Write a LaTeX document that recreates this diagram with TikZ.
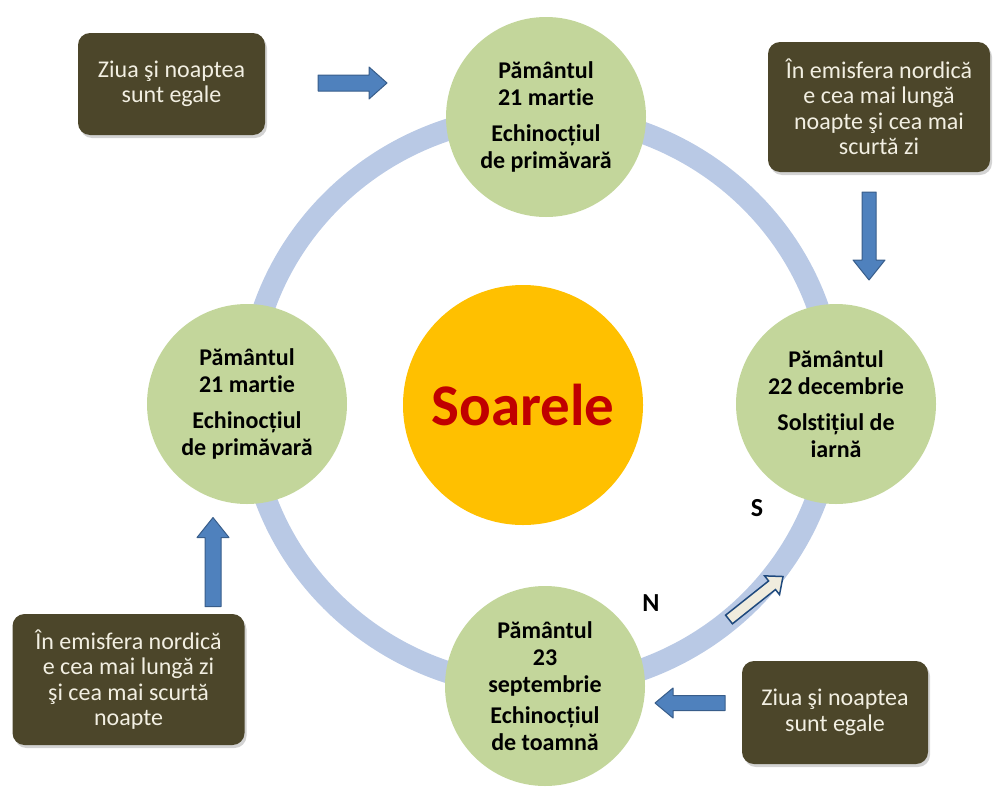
\documentclass[tikz,border=0pt]{standalone}
\usepackage{fontspec}
\setmainfont{Carlito}[Ligatures={NoCommon}]
\usetikzlibrary{shadows}
\definecolor{SunClr}{RGB}{255,192,0}
\definecolor{SunTxtClr}{RGB}{192,0,0}
\definecolor{EarthClr}{RGB}{195,214,155}
\definecolor{OrbitClr}{RGB}{185,201,229}
\definecolor{NoteClr}{RGB}{76,70,42}
\definecolor{NoteTxtClr}{RGB}{242,239,226}
\definecolor{ArrowClr}{RGB}{79,129,189}
\definecolor{ArrowLineClr}{RGB}{56,93,138}
\definecolor{PaleClr}{RGB}{240,236,222}
\definecolor{PaleLineClr}{RGB}{31,73,125}

% block arrow: style, centre x, centre y, angle, length, shaft, head width, head length
\newcommand{\blockarrow}[8]{%
  \draw[#1,shift={(#2,#3)},rotate=#4]
    (-#5/2,-#6/2) -- ({#5/2-#8},-#6/2) -- ({#5/2-#8},-#7/2) -- (#5/2,0)
    -- ({#5/2-#8},#7/2) -- ({#5/2-#8},#6/2) -- (-#5/2,#6/2) -- cycle;}

\begin{document}
\begin{tikzpicture}[x=1pt,y=-1pt,
  orbit/.style={draw=OrbitClr,line width=22pt},
  sun/.style={circle,fill=SunClr,minimum size=240pt,inner sep=0pt,
    text=SunTxtClr,font=\fontsize{59}{60}\selectfont\bfseries},
  earth/.style={circle,fill=EarthClr,minimum size=200pt,inner sep=0pt,
    align=center,font=\fontsize{24}{27}\selectfont\bfseries},
  note/.style={rounded corners=12pt,fill=NoteClr,text=NoteTxtClr,inner sep=0pt,
    align=center,font=\fontsize{24}{25.5}\selectfont,
    drop shadow={opacity=0.35,shadow xshift=2pt,shadow yshift=-3pt}},
  bluearrow/.style={fill=ArrowClr,draw=ArrowLineClr,line width=1pt,line join=round},
  palearrow/.style={fill=PaleClr,draw=PaleLineClr,line width=1.5pt,line join=miter},
  pole/.style={font=\fontsize{26}{28}\selectfont\bfseries}]
\useasboundingbox (0,0) rectangle (995,787);

% orbit and sun
\draw[orbit] (541,401) ellipse [x radius=293, y radius=286];
\node[sun] (soare) at (523,405) {Soarele};

% the four positions of the Earth
\node[earth] (earthN) at (546,117)
  {Pământul\\21 martie\\[9pt]Echinocțiul\\de primăvară};
\node[earth] (earthW) at (247,404)
  {Pământul\\21 martie\\[9pt]Echinocțiul\\de primăvară};
\node[earth] (earthE) at (836,404)
  {Pământul\\22 decembrie\\[9pt]Solstițiul de\\iarnă};
\node[earth] (earthS) at (545,686)
  {Pământul\\23\\septembrie\\[4pt]Echinocțiul\\de toamnă};

% notes
\node[note,minimum width=187pt,minimum height=102pt] (noteNW) at (171.5,84)
  {Ziua şi noaptea\\sunt egale};
\node[note,minimum width=222pt,minimum height=130pt] (noteNE) at (879,107)
  {În emisfera nordică\\e cea mai lungă\\noapte şi cea mai\\scurtă zi};
\node[note,minimum width=232pt,minimum height=131pt] (noteSW) at (128.5,679.5)
  {În emisfera nordică\\e cea mai lungă zi\\şi cea mai scurtă\\noapte};
\node[note,minimum width=186pt,minimum height=103pt] (noteSE) at (835,712.5)
  {Ziua şi noaptea\\sunt egale};

% arrows
\blockarrow{bluearrow}{352.5}{83}{0}{69}{16}{32}{18}
\blockarrow{bluearrow}{869}{236}{-90}{88}{14}{32}{20}
\blockarrow{bluearrow}{213}{562}{90}{89}{16}{32}{20}
\blockarrow{bluearrow}{690}{703}{180}{70}{15}{30}{18}
\blockarrow{palearrow}{756}{598}{38.5}{69}{11}{24}{14}

% poles
\node[pole] (poleS) at (757,508) {S};
\node[pole] (poleN) at (651,603) {N};
\end{tikzpicture}
\end{document}
